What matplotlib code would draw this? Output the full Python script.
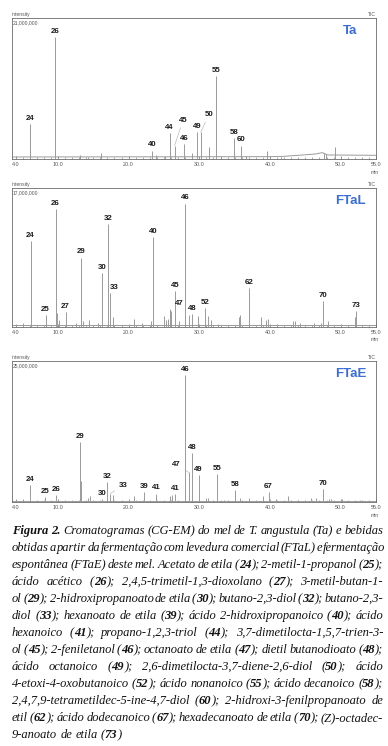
import numpy as np
import matplotlib.pyplot as plt

# peak data: retention time (min), intensity (x 10^6), compound number
ta_time = [6.08, 9.61, 13.06, 14.2, 16.1, 23.3, 23.9, 25.1, 25.8, 26.5, 27.8, 28.95, 29.7,
           30.2, 31.4, 32.4, 33.1, 34.9, 35.9, 36.6, 39.6, 41.5, 47.6, 47.9, 49.2]
ta_height = [5.25, 18.2, 0.63, 0.3, 0.84, 1.26, 0.63, 0.4, 3.8, 2.0, 2.25, 0.95, 4.0,
             4.0, 1.85, 12.4, 0.4, 3.15, 2.0, 0.4, 1.26, 0.3, 0.85, 0.75, 1.75]
ta_peak = ['24', '26', '', '', '', '40', '', '', '44', '45', '46', '', '49',
           '50', '', '55', '', '58', '60', '', '', '', '', '', '']
ta_base_time = [3.5, 40, 42, 44, 46.5, 47.4, 48.2, 55]
ta_base_level = [0.3, 0.35, 0.4, 0.55, 0.75, 0.95, 0.6, 0.55]

ftal_time = [5.04, 6.12, 8.25, 9.66, 9.9, 10.2, 11.08, 12.6, 13.2, 13.3, 13.6, 14.4, 15.6,
             16.2, 17.1, 17.35, 17.8, 20.8, 21.9, 23.1, 23.5, 25.0, 25.3, 25.6, 25.9, 26.0,
             26.6, 27.1, 28.0, 28.5, 28.95, 29.8, 30.85, 31.3, 31.6, 32.7, 35.6, 35.7, 37.0,
             38.7, 39.4, 39.7, 41.0, 43.3, 43.6, 44.2, 46.2, 47.2, 47.5, 48.2, 52.0, 52.2]
ftal_height = [0.5, 10.5, 1.45, 14.45, 1.7, 0.85, 1.8, 0.5, 8.5, 2.5, 0.7, 0.85, 0.5,
               6.6, 12.6, 4.2, 1.2, 1.0, 0.5, 0.7, 11.0, 1.3, 0.85, 1.0, 2.2, 2.0,
               4.4, 0.7, 15.1, 1.45, 1.6, 1.3, 2.3, 1.35, 0.85, 0.35, 1.2, 1.5, 4.75,
               1.2, 0.85, 1.0, 0.35, 0.7, 0.7, 0.5, 0.5, 0.5, 3.15, 0.7, 1.2, 1.9]
ftal_peak = ['', '24', '25', '26', '', '', '27', '', '29', '', '', '', '',
             '30', '32', '33', '', '', '', '', '40', '', '', '', '', '',
             '45', '', '46', '47', '48', '', '52', '', '', '', '', '', '62',
             '', '', '', '', '', '', '', '', '', '70', '', '', '73']
ftal_base_time = [3.5, 55]
ftal_base_level = [0.2, 0.2]

ftae_time = [5.04, 6.08, 8.2, 9.75, 13.15, 13.25, 14.3, 14.5, 16.2, 16.97, 17.4, 17.8,
             20.8, 22.2, 23.9, 25.9, 26.1, 26.6, 28.0, 28.5, 28.95, 29.9, 30.9, 31.2,
             32.5, 33.5, 35.1, 35.7, 37.1, 39.0, 39.8, 40.8, 42.6, 44.0, 45.8, 46.5,
             47.5, 48.3, 48.7, 50.2, 52.7]
ftae_height = [0.5, 3.0, 0.9, 1.2, 10.6, 3.75, 0.75, 1.0, 0.6, 3.5, 1.5, 1.25,
               1.0, 1.75, 1.5, 1.1, 1.25, 1.4, 22.5, 5.25, 8.75, 4.75, 0.75, 0.75,
               4.9, 0.4, 2.1, 0.75, 0.75, 1.0, 1.75, 0.5, 1.0, 0.4, 0.75, 0.75,
               2.25, 0.5, 0.5, 0.5, 0.4]
ftae_peak = ['', '24', '25', '26', '29', '', '', '', '30', '32', '33', '',
             '', '39', '41', '', '', '41', '46', '47', '48', '49', '', '',
             '55', '', '58', '', '', '', '67', '', '', '', '', '',
             '70', '', '', '', '']
ftae_base_time = [3.5, 55]
ftae_base_level = [0.25, 0.25]

panel_names = ['Ta', 'FTaL', 'FTaE']
full_scale = ['21,000,000', '17,000,000', '25,000,000']
y_max = [21, 17, 25]
tick_pos = [4, 10, 20, 30, 40, 50, 55]
tick_text = ['4.0', '10.0', '20.0', '30.0', '40.0', '50.0', '55.0']

# labels placed away from their peak: (time, intensity, draw leader)
moved = {
    ('Ta', '45'): (27.7, 5.8, True),
    ('Ta', '50'): (31.35, 6.6, True),
    ('FTaL', '47'): (27.2, 2.9, False),
    ('FTaL', '33'): (17.9, 4.8, False),
    ('FTaE', '33'): (19.2, 2.95, True),
    ('FTaE', '47'): (26.8, 6.6, True),
}

caption = [
    "**Figura 2.** Cromatogramas (CG-EM) do mel de T. angustula (Ta) e bebidas",
    "obtidas a partir da fermentação com levedura comercial (FTaL) e fermentação",
    "espontânea (FTaE) deste mel. Acetato de etila (**24**); 2-metil-1-propanol (**25**);",
    "ácido acético (**26**); 2,4,5-trimetil-1,3-dioxolano (**27**); 3-metil-butan-1-",
    "ol (**29**); 2-hidroxipropanoato de etila (**30**); butano-2,3-diol (**32**); butano-2,3-",
    "diol (**33**); hexanoato de etila (**39**); ácido 2-hidroxipropanoico (**40**); ácido",
    "hexanoico (**41**); propano-1,2,3-triol (**44**); 3,7-dimetilocta-1,5,7-trien-3-",
    "ol (**45**); 2-feniletanol (**46**); octanoato de etila (**47**); dietil butanodioato (**48**);",
    "ácido octanoico (**49**); 2,6-dimetilocta-3,7-diene-2,6-diol (**50**); ácido",
    "4-etoxi-4-oxobutanoico (**52**); ácido nonanoico (**55**); ácido decanoico (**58**);",
    "2,4,7,9-tetrametildec-5-ine-4,7-diol (**60**); 2-hidroxi-3-fenilpropanoato de",
    "etil (**62**); ácido dodecanoico (**67**); hexadecanoato de etila (**70**); (Z)-octadec-",
    "9-anoato de etila (**73**)",
]

W, H = 388, 746
fig = plt.figure(figsize=(W / 100, H / 100), dpi=100)
fig.patch.set_facecolor('white')

panels = [
    (ta_time, ta_height, ta_peak, ta_base_time, ta_base_level),
    (ftal_time, ftal_height, ftal_peak, ftal_base_time, ftal_base_level),
    (ftae_time, ftae_height, ftae_peak, ftae_base_time, ftae_base_level),
]
boxes = [(18, 159), (188, 327), (361, 502)]
trace = '#9a9a9a'
frame = '#6a6a6a'

for k, (t, h, p, bt, bl) in enumerate(panels):
    top, bot = boxes[k]
    ax = fig.add_axes([12 / W, 1 - bot / H, 364 / W, (bot - top) / H])
    name = panel_names[k]
    ax.set_xlim(3.5, 55)
    ax.set_ylim(0, y_max[k])
    ax.vlines(t, 0, h, color=trace, lw=0.7)
    ax.plot(bt, bl, color=trace, lw=0.7)
    for ti, hi, lab in zip(t, h, p):
        if not lab:
            continue
        if (name, lab) in moved:
            lx, ly, leader = moved[(name, lab)]
            ax.annotate(lab, xy=(ti, hi), xytext=(lx, ly), ha='center', va='center',
                        fontsize=5.7, fontweight='bold', family='Liberation Sans', color='#1a1a1a',
                        arrowprops=dict(arrowstyle='-', lw=0.4, color='#aaaaaa',
                                        shrinkA=1, shrinkB=0) if leader else None)
        else:
            ax.annotate(lab, xy=(ti, hi), xytext=(0, 1.5), textcoords='offset points',
                        ha='center', va='bottom', fontsize=5.7, fontweight='bold',
                        family='Liberation Sans', color='#1a1a1a')
    ax.text(0.93, 0.905, name, transform=ax.transAxes, ha='center', va='center',
            fontsize=9.5, fontweight='bold', family='Liberation Sans', color='#3d6fcf')
    small = dict(fontsize=3.6, family='Liberation Sans', color='#555555', transform=ax.transAxes)
    ax.text(0.0, 1.005, 'intensity', ha='left', va='bottom', **small)
    ax.text(0.003, 0.985, full_scale[k], ha='left', va='top', **small)
    ax.text(1.0, 1.005, 'TIC', ha='right', va='bottom', **small)
    ax.text(0.997, -0.075, 'min', ha='center', va='top', **small)

    ax.set_xticks(tick_pos)
    ax.set_xticklabels(tick_text, fontsize=3.9, family='Liberation Sans', color='#555555')
    ax.set_xticks(np.arange(4, 55, 1), minor=True)
    ax.set_yticks([])
    ax.tick_params(axis='x', which='major', direction='in', length=2.5, width=0.5,
                   color=frame, pad=2)
    ax.tick_params(axis='x', which='minor', direction='in', length=1.5, width=0.4, color=frame)
    for s in ax.spines.values():
        s.set_color(frame)
        s.set_linewidth(0.6)


def parse(line):
    words = [[]]
    for i, part in enumerate(line.split('**')):
        bold = i % 2 == 1
        for j, piece in enumerate(part.split(' ')):
            if j > 0:
                words.append([])
            if piece:
                words[-1].append((piece, bold))
    return [w for w in words if w]


# justified caption
fs = 9.0
x0, x1 = 12, 383
y_base, step = 534, 17
renderer = fig.canvas.get_renderer()
space = 0.25 * fs * 100 / 72
for i, line in enumerate(caption):
    words = parse(line)
    objs = []
    for w in words:
        wo = []
        for seg, bold in w:
            txt = fig.text(0, 0, seg, fontsize=fs, family='Liberation Serif', style='italic',
                           fontweight='bold' if bold else 'normal', color='#111111',
                           ha='left', va='baseline')
            wo.append((txt, txt.get_window_extent(renderer).width))
        objs.append(wo)
    widths = [sum(wd for _, wd in wo) for wo in objs]
    if i < len(caption) - 1 and len(objs) > 1:
        gap = max((x1 - x0 - sum(widths)) / (len(objs) - 1), 0.3 * space)
    else:
        gap = space
    x = x0
    y = y_base + i * step
    for wo, wd in zip(objs, widths):
        xx = x
        for txt, sw in wo:
            txt.set_position((xx / W, 1 - y / H))
            xx += sw
        x += wd + gap

fig.savefig('out.png', dpi=100, facecolor='white')
